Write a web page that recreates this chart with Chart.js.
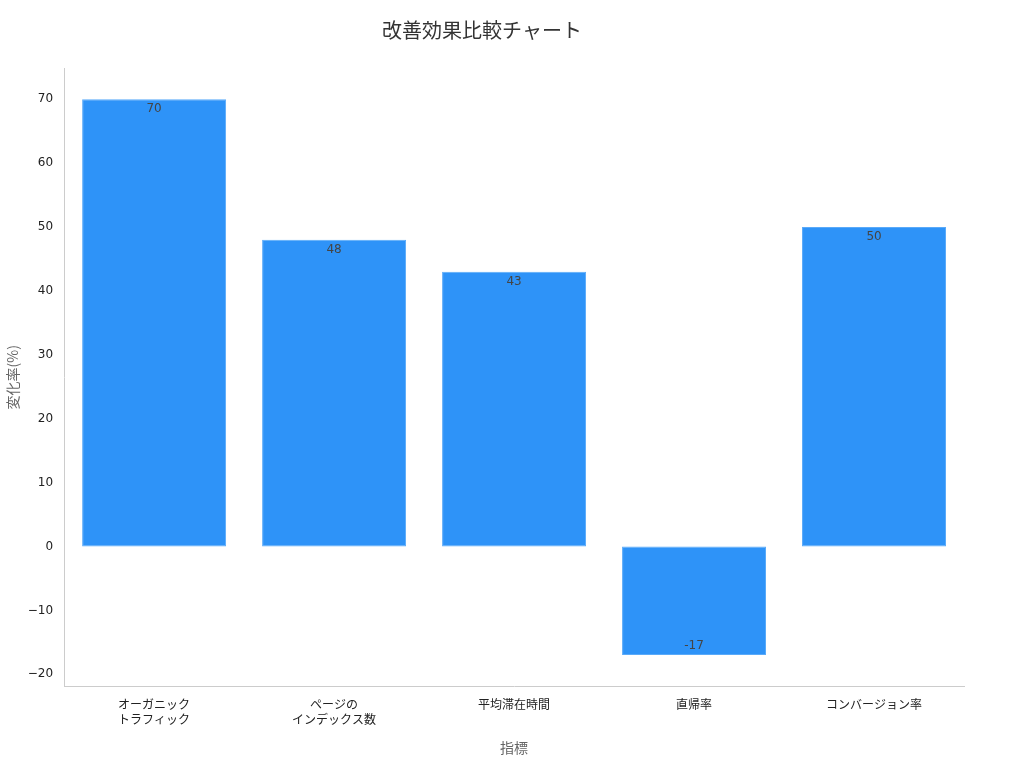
<!DOCTYPE html>
<html>
<head>
<meta charset="utf-8">
<script src="https://cdn.jsdelivr.net/npm/chart.js@4"></script>
<style>
  body { margin: 0; background: #fff; }
  #wrap { width: 1024px; height: 768px; }
</style>
</head>
<body>
<div id="wrap"><canvas id="myChart"></canvas></div>
<script>
var categories = [['オーガニック', 'トラフィック'], ['ページの', 'インデックス数'], '平均滞在時間', '直帰率', 'コンバージョン率'];
var changeValues = [70, 48, 43, -17, 50];

Chart.defaults.font.family = '"Noto Sans CJK JP", "DejaVu Sans", sans-serif';

var barLabels = {
    id: 'barLabels',
    afterDatasetsDraw: function (chart) {
        var c = chart.ctx;
        var meta = chart.getDatasetMeta(0);
        c.save();
        c.font = '12px "DejaVu Sans", sans-serif';
        c.fillStyle = '#444';
        c.textAlign = 'center';
        meta.data.forEach(function (bar, i) {
            var v = changeValues[i];
            if (v >= 0) {
                c.textBaseline = 'top';
                c.fillText(String(v), bar.x, bar.y + 4);
            } else {
                c.textBaseline = 'bottom';
                c.fillText(String(v), bar.x, bar.y - 3);
            }
        });
        c.restore();
    }
};

var ctx = document.getElementById('myChart').getContext('2d');
var myChart = new Chart(ctx, {
    type: 'bar',
    data: {
        labels: categories,
        datasets: [{
            data: changeValues,
            backgroundColor: '#2E93F8',
            borderColor: '#5AAAF9',
            borderWidth: 1,
            borderSkipped: false,
            categoryPercentage: 0.8,
            barPercentage: 1.0
        }]
    },
    options: {
        responsive: true,
        maintainAspectRatio: false,
        animation: false,
        layout: { padding: { left: 0, right: 60, top: 10, bottom: 8 } },
        plugins: {
            legend: { display: false },
            tooltip: { enabled: false },
            title: {
                display: true,
                text: '改善効果比較チャート',
                color: '#333',
                font: { size: 20, weight: 'normal' },
                padding: { top: 8, bottom: 26 }
            }
        },
        scales: {
            x: {
                grid: { display: false, drawTicks: true },
                border: { color: '#ccc' },
                ticks: { color: '#222', font: { size: 12 } },
                title: { display: true, text: '指標', color: '#666', font: { size: 14 }, padding: { top: 10 } }
            },
            y: {
                min: -21.9,
                max: 74.9,
                grid: { display: false },
                border: { color: '#ccc' },
                afterBuildTicks: function (axis) {
                    axis.ticks = [-20, -10, 0, 10, 20, 30, 40, 50, 60, 70].map(function (v) { return { value: v }; });
                },
                ticks: {
                    color: '#222',
                    font: { size: 12, family: '"DejaVu Sans", sans-serif' },
                    callback: function (v) { return String(v).replace('-', '\u2212'); }
                },
                title: { display: true, text: '変化率(%)', color: '#666', font: { size: 14 } }
            }
        }
    },
    plugins: [barLabels]
});
</script>
</body>
</html>
